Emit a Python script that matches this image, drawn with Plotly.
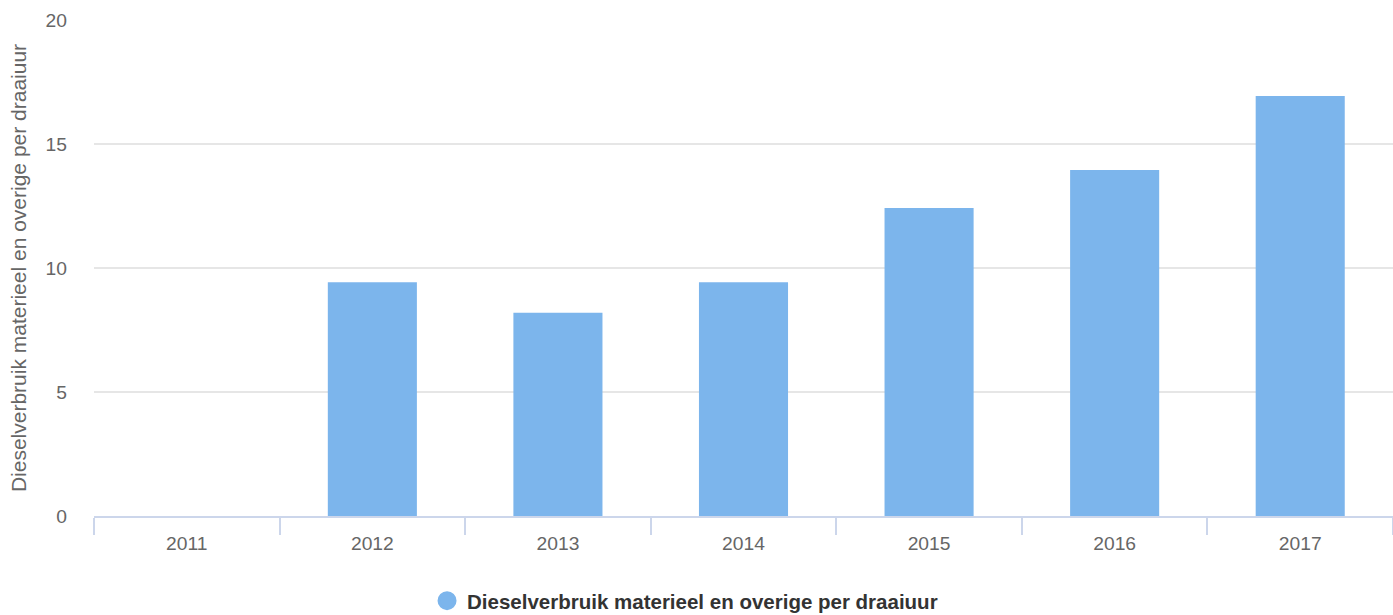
import plotly.graph_objects as go

years = ["2011", "2012", "2013", "2014", "2015", "2016", "2017"]
values = [None, 9.43, 8.2, 9.43, 12.42, 13.95, 16.94]
series_name = "Dieselverbruik materieel en overige per draaiuur"
y_title = "Dieselverbruik materieel en overige per draaiuur"

color = "#7cb5ec"
font_family = "Liberation Sans, Arial, Helvetica, sans-serif"

fig = go.Figure()
fig.add_trace(go.Bar(
    x=years, y=values, marker=dict(color=color, line=dict(width=0)),
    showlegend=False, name=series_name,
))
fig.add_trace(go.Scatter(
    x=[None], y=[None], mode="markers", name=series_name,
    marker=dict(symbol="circle", size=16, color=color, line=dict(color=color, width=3)),
    showlegend=True,
))

fig.update_layout(
    width=1393, height=615,
    margin=dict(l=94, r=0, t=20, b=99, autoexpand=False),
    paper_bgcolor="white", plot_bgcolor="white",
    bargap=0.52,
    font=dict(family=font_family, size=19.25, color="#666666"),
    legend=dict(
        orientation="h", x=0.455, xanchor="center", y=-0.171, yanchor="middle",
        font=dict(size=20.5, color="#333333", family=font_family, weight="bold"),
        itemsizing="trace",
    ),
)
fig.update_xaxes(
    type="category", showline=True, linecolor="#ccd6eb", linewidth=1.5,
    ticks="outside", ticklen=17, tickcolor="#ccd6eb", tickwidth=1.5,
    tickson="boundaries", showgrid=False, ticklabelstandoff=9,
    tickfont=dict(size=19.25, color="#666666"),
)
fig.update_yaxes(
    range=[0, 20], dtick=5, showgrid=True, gridcolor="#e6e6e6", gridwidth=1.5,
    zeroline=False, showline=False, ticks="", ticklabelstandoff=26,
    tickfont=dict(size=19.25, color="#666666"),
    title=dict(text=y_title, font=dict(size=21, color="#666666"), standoff=13),
)

fig.write_html("out.html")
